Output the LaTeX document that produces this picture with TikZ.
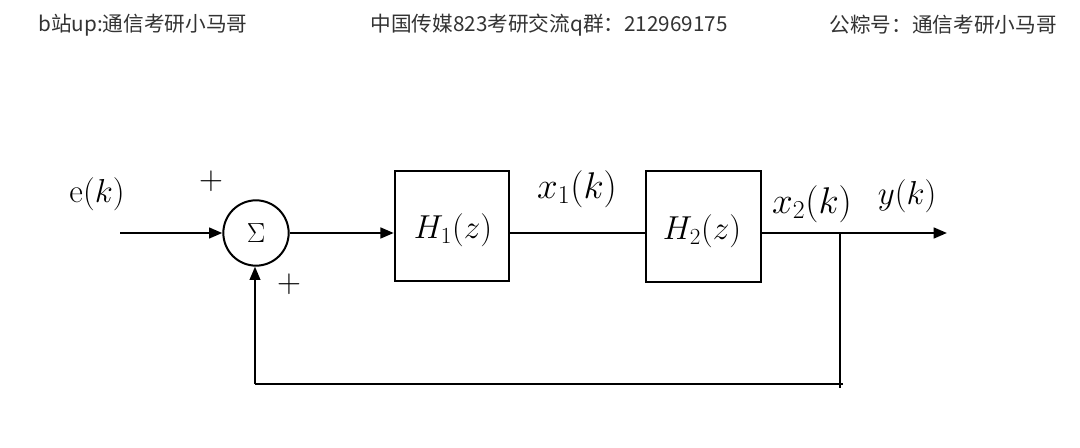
\documentclass[tikz,border=0pt]{standalone}
\usepackage{fontspec}
\newfontfamily\cjk{Noto Sans CJK SC}
\usetikzlibrary{arrows.meta}
\begin{document}
\begin{tikzpicture}[x=0.75pt,y=-0.75pt,
  hdr/.style={font=\cjk\fontsize{15.5}{18}\selectfont, text=black!80, inner sep=0pt},
  blk/.style={draw, line width=1.3pt, minimum width=86pt, minimum height=83pt, inner sep=0pt},
  sumnode/.style={draw, circle, line width=1.5pt, minimum size=49pt, inner sep=0pt, font=\fontsize{20.74}{24}\selectfont},
  sig/.style={line width=1.8pt, -{Triangle[length=10pt,width=8pt]}},
  wire/.style={line width=1.8pt},
  fb/.style={line width=1.1pt},
  lbl/.style={inner sep=0pt, font=\fontsize{25}{30}\selectfont},
  biglbl/.style={inner sep=0pt, font=\fontsize{25}{30}\selectfont, scale=1.12, transform shape},
  pm/.style={inner sep=0pt, font=\fontsize{25}{30}\selectfont}
]
\path[use as bounding box, fill=white] (0,0) rectangle (1080,448);

% header
\node[hdr] (t1) at (143,25) {b站up:通信考研小马哥};
\node[hdr] (t2) at (549,25) {中国传媒823考研交流q群：212969175};
\node[hdr] (t3) at (943,25) {公粽号：通信考研小马哥};

% blocks
\node[sumnode] (sum) at (256,233) {$\Sigma$};
\node[blk] (h1) at (452,226) {};
\node[blk] (h2) at (703.5,226.5) {};
\node[lbl] (h1t) at (453,230) {$H_1(z)$};
\node[lbl] (h2t) at (702,231) {$H_2(z)$};

\coordinate (in) at (120,233);
\coordinate (out) at (947,233);
\coordinate (br) at (840,233);
\coordinate (brend) at (840,388);
\coordinate (fbstart) at (843,384);
\coordinate (fbcorner) at (255,384);

% connectors
\draw[sig] (in) -- (sum.west);
\draw[sig] (sum.east) -- (sum.east -| h1.west);
\draw[wire] (h1.east |- sum) -- (h2.west |- sum);
\draw[sig] (h2.east |- sum) -- (out);
\draw[fb] (br) -- (brend);
\draw[fb] (fbstart) -- (fbcorner);
\draw[line width=1.5pt, -{Triangle[length=10pt,width=8pt]}] (fbcorner) -- (fbcorner |- sum.south);

% labels
\node[lbl] (ek) at (97,194) {e$(k)$};
\node[pm] (p1) at (211,181) {$+$};
\node[pm] (p2) at (289,284) {$+$};
\node[biglbl] (x1) at (577,189) {$x_1(k)$};
\node[biglbl] (x2) at (812,204) {$x_2(k)$};
\node[lbl] (yk) at (907,196) {$y(k)$};
\end{tikzpicture}
\end{document}
